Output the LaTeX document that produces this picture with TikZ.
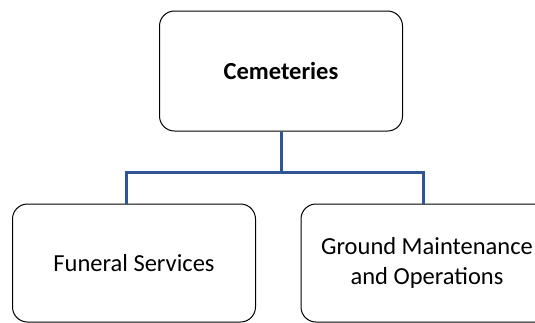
\documentclass[tikz,border=0pt]{standalone}
\usepackage{fontspec}
\setmainfont{Carlito}
\definecolor{linkblue}{RGB}{47,85,151}
\begin{document}
\begin{tikzpicture}[x=1pt,y=-1pt]
    \tikzstyle{box}=[draw=black, line width=1pt, rounded corners=15pt, minimum width=243pt, minimum height=118pt, inner sep=0pt, align=center, font=\fontsize{24.5}{30}\selectfont]
    \tikzstyle{link}=[draw=linkblue, line width=3pt]
    \useasboundingbox (0,0) rectangle (535,322);
    \clip (0,0) rectangle (535,322);
    % top level
    \node[box, minimum height=120pt, font=\bfseries\fontsize{24.5}{30}\selectfont] (cem) at (281,71) {Cemeteries};
    % second level
    \node[box] (fun) at (134,263) {Funeral Services};
    \node[box, minimum width=252pt] (grd) at (427,263) {Ground Maintenance\\and Operations};
    % connectors
    \coordinate (bus) at (281,172);
    \draw[link] (cem.south) -- (bus);
    \draw[link] (bus) -| ([xshift=-8pt]fun.north);
    \draw[link] (bus) -| ([xshift=-4pt]grd.north);
\end{tikzpicture}
\end{document}
